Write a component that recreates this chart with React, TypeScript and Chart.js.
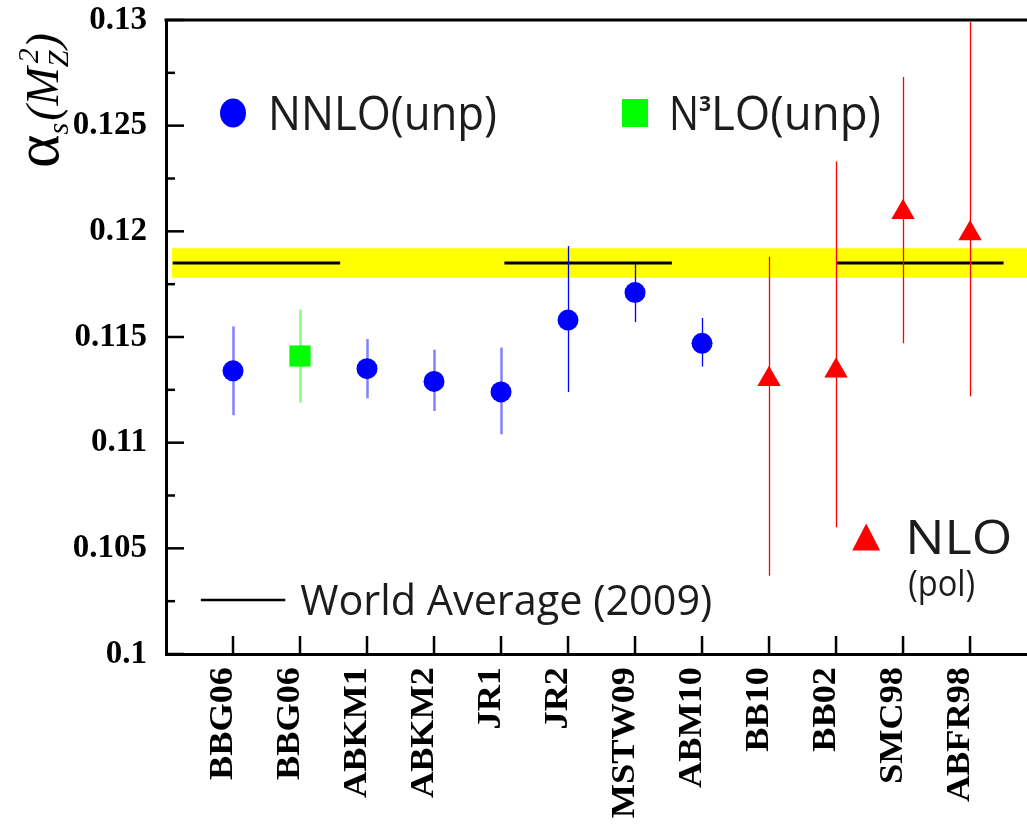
import React, { useEffect, useRef } from "react";
import { Chart, registerables } from "chart.js";

Chart.register(...registerables);

// ---------- data ----------
const categories = ["BBG06", "BBG06", "ABKM1", "ABKM2", "JR1", "JR2", "MSTW09", "ABM10", "BB10", "BB02", "SMC98", "ABFR98"];
const categoryPositions = [1, 2, 3, 4, 5, 6, 7, 8, 9, 10, 11, 12];

const nnloPos = [1, 3, 4, 5, 6, 7, 8];
const nnloValues = [0.1134, 0.1135, 0.1129, 0.1124, 0.1158, 0.1171, 0.1147];
const nnloLow = [0.1113, 0.1121, 0.1115, 0.1104, 0.1124, 0.1157, 0.1136];
const nnloHigh = [0.1155, 0.1149, 0.1144, 0.1145, 0.1193, 0.1185, 0.1159];

const n3loPos = [2];
const n3loValues = [0.1141];
const n3loLow = [0.1119];
const n3loHigh = [0.1163];

const nloPos = [9, 10, 11, 12];
const nloValues = [0.113, 0.1134, 0.1209, 0.1199];
const nloLow = [0.1037, 0.106, 0.1147, 0.1122];
const nloHigh = [0.1188, 0.1233, 0.1273, 0.1299];

const worldAverage = 0.1185;
const worldAverageError = 0.0007;
const worldAverageSegments = [
  [0.1, 2.6],
  [5.05, 7.55],
  [10.0, 12.5],
];
const bandRange = [0.09, 12.85];

const yMin = 0.1;
const yMax = 0.13;
const yStep = 0.005;
const yMinorStep = 0.0025;
const xMin = 0;
const xMax = 12.85;

// legend anchors (data coordinates)
const legendNNLO = { x: 1.0, y: 0.1256 };
const legendN3LO = { x: 7.0, y: 0.1256 };
const legendNLO = { x: 10.45, y: 0.10547 };
const legendWA = { x0: 0.52, x1: 1.78, y: 0.10255 };

// ---------- colours ----------
const BLUE = "#0000ff";
const LIGHT_BLUE = "#8080ff";
const GREEN = "#00ff00";
const LIGHT_GREEN = "#80ff80";
const RED = "#ff0000";
const YELLOW = "#ffff00";
const TEXT = "#1c1c1c";
const LEGEND_FONT = '"Open Sans", "DejaVu Sans", sans-serif';
const SERIF = '"Liberation Serif", "Times New Roman", serif';

function fitText(ctx: CanvasRenderingContext2D, text: string, x: number, y: number, width: number, font: string) {
  ctx.font = font;
  const w = ctx.measureText(text).width;
  ctx.save();
  ctx.translate(x, y);
  ctx.scale(width / w, 1);
  ctx.fillText(text, 0, 0);
  ctx.restore();
}

const errorBarPlugin = {
  id: "errorBars",
  beforeDatasetDraw(chart: any, args: any) {
    const ds = chart.data.datasets[args.index];
    if (!ds.errLow) return;
    const { ctx, scales } = chart;
    const xs = scales.x;
    const ys = scales.y;
    ctx.save();
    ds.data.forEach((pt: any, i: number) => {
      const px = Math.round(xs.getPixelForValue(pt.x)) + 0.5;
      ctx.strokeStyle = Array.isArray(ds.errorBarColor) ? ds.errorBarColor[i] : ds.errorBarColor;
      ctx.lineWidth = Array.isArray(ds.errorBarWidth) ? ds.errorBarWidth[i] : ds.errorBarWidth;
      ctx.beginPath();
      ctx.moveTo(px, ys.getPixelForValue(ds.errLow[i]));
      ctx.lineTo(px, ys.getPixelForValue(ds.errHigh[i]));
      ctx.stroke();
    });
    ctx.restore();
  },
};

const decorPlugin = {
  id: "decor",
  afterDraw(chart: any) {
    const { ctx, chartArea, scales } = chart;
    const xs = scales.x;
    const ys = scales.y;
    ctx.save();
    ctx.strokeStyle = "#000";
    ctx.fillStyle = "#000";

    // top frame line
    ctx.lineWidth = 3;
    ctx.beginPath();
    ctx.moveTo(chartArea.left - 1.5, chartArea.top);
    ctx.lineTo(chartArea.right, chartArea.top);
    ctx.stroke();

    // x ticks (inward)
    ctx.lineWidth = 2.5;
    categoryPositions.forEach((p) => {
      const px = xs.getPixelForValue(p);
      ctx.beginPath();
      ctx.moveTo(px, chartArea.bottom);
      ctx.lineTo(px, chartArea.bottom - 18);
      ctx.stroke();
    });

    // y ticks (inward), major + minor
    const nMinor = Math.round((yMax - yMin) / yMinorStep);
    for (let i = 0; i <= nMinor; i++) {
      const v = yMin + i * yMinorStep;
      const py = ys.getPixelForValue(v);
      const len = i % 2 === 0 ? 18 : 9;
      ctx.beginPath();
      ctx.moveTo(chartArea.left, py);
      ctx.lineTo(chartArea.left + len, py);
      ctx.stroke();
    }

    // x labels, rotated
    ctx.font = `bold 33px ${SERIF}`;
    ctx.textAlign = "right";
    ctx.textBaseline = "alphabetic";
    categories.forEach((lab, i) => {
      const px = xs.getPixelForValue(categoryPositions[i]);
      ctx.save();
      ctx.translate(px - 1, chartArea.bottom + 13);
      ctx.rotate(-Math.PI / 2);
      ctx.scale(1.1, 1);
      ctx.fillText(lab, 0, 0);
      ctx.restore();
    });

    // y title: alpha_s(M_Z^2)
    ctx.save();
    ctx.translate(58, 168);
    ctx.rotate(-Math.PI / 2);
    ctx.textAlign = "left";
    let x = 0;
    const put = (t: string, font: string, dy: number) => {
      ctx.font = font;
      ctx.fillText(t, x, dy);
      x += ctx.measureText(t).width;
    };
    put("α", `64px ${SERIF}`, 0);
    put("s", `italic 30px ${SERIF}`, 10);
    x += 2;
    put("(", `italic 46px ${SERIF}`, 0);
    put("M", `italic 46px ${SERIF}`, 0);
    ctx.font = `italic 30px ${SERIF}`;
    ctx.fillText("Z", x, 10);
    const zw = ctx.measureText("Z").width;
    ctx.fillText("2", x + 4, -20);
    x += zw + 2;
    put(")", `italic 46px ${SERIF}`, 0);
    ctx.restore();

    // legends
    ctx.textAlign = "left";
    ctx.textBaseline = "alphabetic";
    ctx.fillStyle = TEXT;

    // NNLO
    let mx = xs.getPixelForValue(legendNNLO.x);
    let my = ys.getPixelForValue(legendNNLO.y);
    ctx.fillStyle = BLUE;
    ctx.beginPath();
    ctx.ellipse(mx, my, 13, 14.5, 0, 0, Math.PI * 2);
    ctx.fill();
    ctx.fillStyle = TEXT;
    fitText(ctx, "NNLO(unp)", mx + 35, my + 17, 229, `48px ${LEGEND_FONT}`);

    // N3LO
    mx = xs.getPixelForValue(legendN3LO.x);
    my = ys.getPixelForValue(legendN3LO.y);
    ctx.fillStyle = GREEN;
    ctx.fillRect(mx - 13, my - 14, 26, 28);
    ctx.fillStyle = TEXT;
    fitText(ctx, "N", mx + 34, my + 17, 30, `48px ${LEGEND_FONT}`);
    fitText(ctx, "3", mx + 64, my - 2, 12, `bold 22px ${LEGEND_FONT}`);
    fitText(ctx, "LO(unp)", mx + 76, my + 17, 170, `48px ${LEGEND_FONT}`);

    // NLO (pol)
    mx = xs.getPixelForValue(legendNLO.x);
    my = ys.getPixelForValue(legendNLO.y);
    ctx.fillStyle = RED;
    ctx.beginPath();
    ctx.moveTo(mx, my - 15);
    ctx.lineTo(mx + 14, my + 12);
    ctx.lineTo(mx - 14, my + 12);
    ctx.closePath();
    ctx.fill();
    ctx.fillStyle = TEXT;
    fitText(ctx, "NLO", mx + 39, my + 16, 107, `48px ${LEGEND_FONT}`);
    fitText(ctx, "(pol)", mx + 42, my + 58, 67, `36px ${LEGEND_FONT}`);

    // World average
    const wx0 = xs.getPixelForValue(legendWA.x0);
    const wx1 = xs.getPixelForValue(legendWA.x1);
    const wy = ys.getPixelForValue(legendWA.y);
    ctx.strokeStyle = "#000";
    ctx.lineWidth = 2.5;
    ctx.beginPath();
    ctx.moveTo(wx0, wy);
    ctx.lineTo(wx1, wy);
    ctx.stroke();
    fitText(ctx, "World Average (2009)", wx1 + 15, wy + 15, 412, `42px ${LEGEND_FONT}`);

    ctx.restore();
  },
};

export default function App() {
  const canvasRef = useRef<HTMLCanvasElement | null>(null);

  useEffect(() => {
    if (!canvasRef.current) return;
    const toPts = (xs: number[], ys: number[]) => xs.map((x, i) => ({ x, y: ys[i] }));
    const waLine: any[] = [];
    worldAverageSegments.forEach(([a, b]) => {
      waLine.push({ x: a, y: worldAverage });
      waLine.push({ x: b, y: worldAverage });
      waLine.push({ x: b + 0.01, y: null });
    });

    const chart = new Chart(canvasRef.current, {
      type: "scatter",
      data: {
        datasets: [
          {
            label: "NNLO(unp)",
            data: toPts(nnloPos, nnloValues),
            pointStyle: "circle",
            pointRadius: 10.5,
            pointHoverRadius: 10.5,
            backgroundColor: BLUE,
            borderColor: BLUE,
            borderWidth: 0,
            order: 0,
            errLow: nnloLow,
            errHigh: nnloHigh,
            errorBarColor: nnloPos.map((p) => (p < 6 ? LIGHT_BLUE : BLUE)),
            errorBarWidth: nnloPos.map((p) => (p < 6 ? 2.5 : 1.3)),
          } as any,
          {
            label: "N3LO(unp)",
            data: toPts(n3loPos, n3loValues),
            pointStyle: "rect",
            pointRadius: 15,
            pointHoverRadius: 15,
            backgroundColor: GREEN,
            borderColor: GREEN,
            borderWidth: 0,
            order: 0,
            errLow: n3loLow,
            errHigh: n3loHigh,
            errorBarColor: LIGHT_GREEN,
            errorBarWidth: 2.5,
          } as any,
          {
            label: "NLO(pol)",
            data: toPts(nloPos, nloValues),
            pointStyle: "triangle",
            pointRadius: 13.5,
            pointHoverRadius: 13.5,
            backgroundColor: RED,
            borderColor: RED,
            borderWidth: 0,
            order: 0,
            errLow: nloLow,
            errHigh: nloHigh,
            errorBarColor: RED,
            errorBarWidth: 1.3,
          } as any,
          {
            label: "World Average (2009)",
            data: waLine,
            showLine: true,
            spanGaps: false,
            pointRadius: 0,
            borderColor: "#000",
            borderWidth: 3,
            order: 5,
          } as any,
          {
            label: "band-upper",
            data: bandRange.map((x) => ({ x, y: worldAverage + worldAverageError })),
            showLine: true,
            pointRadius: 0,
            borderColor: "rgba(0,0,0,0)",
            borderWidth: 1,
            backgroundColor: YELLOW,
            fill: "+1",
            order: 10,
          } as any,
          {
            label: "band-lower",
            data: bandRange.map((x) => ({ x, y: worldAverage - worldAverageError })),
            showLine: true,
            pointRadius: 0,
            borderColor: "rgba(0,0,0,0)",
            borderWidth: 1,
            fill: false,
            order: 10,
          } as any,
        ],
      },
      options: {
        animation: false,
        responsive: false,
        maintainAspectRatio: false,
        events: [],
        layout: { autoPadding: false, padding: { top: 20, right: 0, left: 0, bottom: 0 } },
        plugins: {
          legend: { display: false },
          tooltip: { enabled: false },
        },
        scales: {
          x: {
            type: "linear",
            min: xMin,
            max: xMax,
            position: "bottom",
            grid: { display: false, drawTicks: false },
            border: { display: true, width: 3, color: "#000" },
            ticks: { display: false },
            afterFit: (s: any) => {
              s.height = 171;
              s.paddingLeft = 0;
              s.paddingRight = 0;
              s.paddingTop = 0;
              s.paddingBottom = 0;
            },
          },
          y: {
            type: "linear",
            min: yMin,
            max: yMax,
            grid: { display: false, drawTicks: false },
            border: { display: true, width: 3, color: "#000" },
            ticks: {
              stepSize: yStep,
              padding: 19,
              color: "#000",
              font: { family: SERIF, size: 33, weight: "bold" },
              callback: (v: any) => String(parseFloat(Number(v).toFixed(4))),
            },
            afterFit: (s: any) => {
              s.width = 166;
              s.paddingLeft = 0;
              s.paddingRight = 0;
              s.paddingTop = 0;
              s.paddingBottom = 0;
            },
          },
        },
      } as any,
      plugins: [errorBarPlugin, decorPlugin],
    });
    return () => chart.destroy();
  }, []);

  return (
    <div style={{ position: "fixed", left: 0, top: 0, width: 1027, height: 825, background: "#fff" }}>
      <canvas ref={canvasRef} width={1027} height={825} style={{ display: "block" }} />
    </div>
  );
}
